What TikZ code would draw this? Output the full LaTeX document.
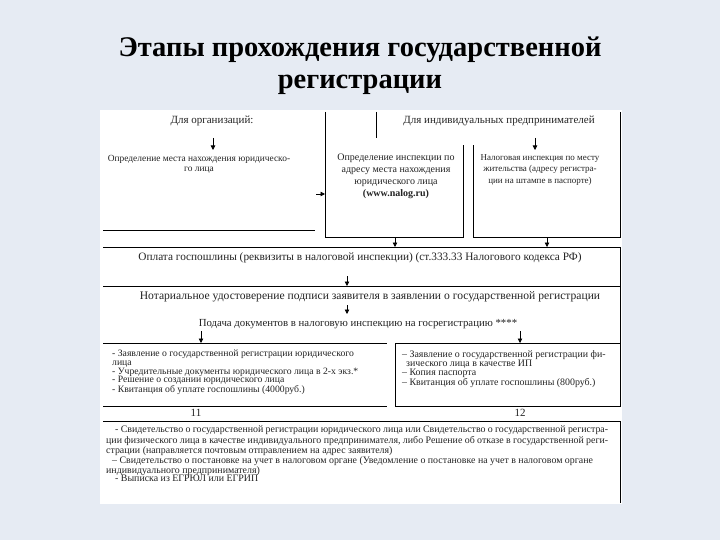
\documentclass[tikz,border=0pt]{standalone}
\usepackage{fontspec}
\setmainfont{Liberation Serif}
\usetikzlibrary{arrows.meta}
\definecolor{bgc}{RGB}{230,235,243}
\definecolor{txt}{RGB}{35,35,35}
\tikzset{
  ln/.style={line width=0.9pt, black},
  arr/.style={line width=0.8pt, -{Triangle[length=4.5pt,width=4.5pt]}},
  ttl/.style={font=\fontsize{28.5}{35}\selectfont\bfseries, text=black, inner sep=0pt, align=center},
  tb/.style={font=\fontsize{10}{12}\selectfont, text=txt, inner sep=0pt, align=center},
  small/.style={font=\fontsize{9.7}{8.6}\selectfont, text=txt, inner sep=0pt, align=left},
}
\begin{document}
\begin{tikzpicture}[x=1pt,y=-1pt]
\fill[bgc] (0,0) rectangle (720,540);
\useasboundingbox (0,0) rectangle (720,540);
\fill[white] (100,110) rectangle (622,504);
% title
\node[ttl] (t1) at (360,50) {Этапы прохождения государственной};
\node[ttl] (t2) at (360,85) {регистрации};
% frame lines
\draw[ln] (325,112) -- (325,237) -- (463,237) -- (463,145);
\draw[ln] (376,112) -- (376,138);
\draw[ln] (620,112) -- (620,237) -- (473,237) -- (473,145);
\draw[ln] (103,230) -- (315,230);
\draw[ln] (103,247) -- (620,247) -- (620,343);
\draw[ln] (103,286) -- (620,286);
\draw[ln] (103,343) -- (387,343);
\draw[ln] (103,406) -- (387,406);
\draw[ln] (395,343) rectangle (620,406);
\draw[ln] (103,421) -- (620,421) -- (620,503);
% texts
\node[tb, font=\fontsize{11}{12}\selectfont] (org) at (212,121) {Для организаций:};
\node[tb, font=\fontsize{11}{12}\selectfont] (ip) at (499,121) {Для индивидуальных предпринимателей};
\node[tb, font=\fontsize{9.4}{10}\selectfont] (mesto) at (199,164) {Определение места нахождения юридическо-\\го лица};
\node[tb] (insp) at (396,176) {Определение инспекции по\\адресу места нахождения\\юридического лица\\\textbf{(www.nalog.ru)}};
\node[tb, font=\fontsize{9}{11.8}\selectfont] (nal) at (540,170) {Налоговая инспекция по месту\\жительства (адресу регистра-\\ции на штампе в паспорте)};
\node[tb, font=\fontsize{11.3}{12}\selectfont] (opl) at (360,258) {Оплата госпошлины (реквизиты в налоговой инспекции) (ст.333.33 Налогового кодекса РФ)};
\node[tb, font=\fontsize{11.6}{12}\selectfont] (notar) at (370,297) {Нотариальное удостоверение подписи заявителя в заявлении о государственной регистрации};
\node[tb, font=\fontsize{10.8}{12}\selectfont] (pod) at (358,324) {Подача документов в налоговую инспекцию на госрегистрацию ****};
\node[small, anchor=north west] (ldoc) at (112,350) {- Заявление о государственной регистрации юридического\\лица\\- Учредительные документы юридического лица в 2-х экз.*\\- Решение о создании юридического лица\\- Квитанция об уплате госпошлины (4000руб.)};
\node[small, font=\fontsize{9.9}{8.6}\selectfont, anchor=north west] (rdoc) at (402,350) {– Заявление о государственной регистрации фи-\\\hspace*{4pt}зического лица в качестве ИП\\– Копия паспорта\\– Квитанция об уплате госпошлины (800руб.)};
\node[tb, font=\fontsize{11}{12}\selectfont] (n11) at (196,413) {11};
\node[tb, font=\fontsize{11}{12}\selectfont] (n12) at (520,413) {12};
\node[small, font=\fontsize{9.9}{8.7}\selectfont, anchor=north west, text width=502pt, align=justify] (fin) at (106,426) {\hspace*{9pt}- Свидетельство о государственной регистрации юридического лица или Свидетельство о государственной регистра-\linebreak ции физического лица в качестве индивидуального предпринимателя, либо Решение об отказе в государственной реги-\linebreak страции (направляется почтовым отправлением на адрес заявителя)\\\hspace*{6pt}– Свидетельство о постановке на учет в налоговом органе (Уведомление о постановке на учет в налоговом органе\\индивидуального предпринимателя)\\\hspace*{9pt}- Выписка из ЕГРЮЛ или ЕГРИП};
% arrow anchors
\coordinate (a1) at (213,138); \coordinate (a1e) at (213,150);
\coordinate (a2) at (316,194); \coordinate (a2e) at (325,194);
\coordinate (a3) at (535,138); \coordinate (a3e) at (535,150);
\coordinate (a4) at (395,238); \coordinate (a4e) at (395,247);
\coordinate (a5) at (547,238); \coordinate (a5e) at (547,247);
\coordinate (a6) at (347,276); \coordinate (a6e) at (347,286);
\coordinate (a7) at (347,305); \coordinate (a7e) at (347,314);
\coordinate (a8) at (201,331); \coordinate (a8e) at (201,343);
\coordinate (a9) at (520,331); \coordinate (a9e) at (520,343);
\draw[arr] (a1) -- (a1e);
\draw[arr] (a2) -- (a2e);
\draw[arr] (a3) -- (a3e);
\draw[arr] (a4) -- (a4e);
\draw[arr] (a5) -- (a5e);
\draw[arr] (a6) -- (a6e);
\draw[arr] (a7) -- (a7e);
\draw[arr] (a8) -- (a8e);
\draw[arr] (a9) -- (a9e);
\end{tikzpicture}
\end{document}
